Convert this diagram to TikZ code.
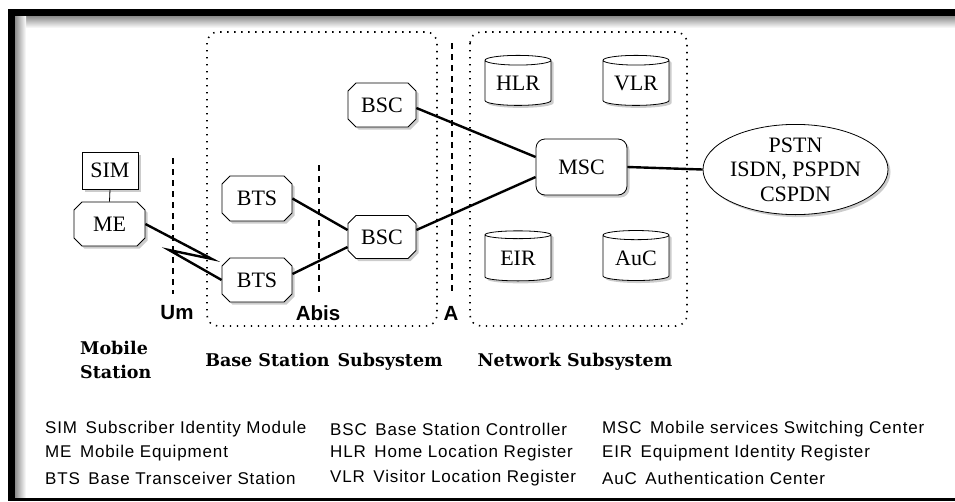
\documentclass[tikz,border=0pt]{standalone}
\usepackage{fontspec}
\setmainfont{Liberation Serif}
\newfontfamily\slabfont{DejaVu Serif}
\newfontfamily\legfont[LetterSpace=5]{Liberation Sans}
\newfontfamily\ifcfont{Liberation Sans}
\usetikzlibrary{shapes.misc,shapes.geometric,shadows}
\begin{document}
\begin{tikzpicture}[x=1pt,y=-1pt,
  shd/.style={drop shadow={shadow xshift=2.5pt,shadow yshift=-2.5pt,fill=black,opacity=0.2}},
  nfont/.style={font=\fontsize{22}{26}\selectfont},
  octbox/.style={chamfered rectangle,chamfered rectangle xsep=4pt,chamfered rectangle ysep=4pt,draw,thick,fill=white,inner sep=0pt,nfont,shd},
  rbox/.style={rounded corners=9pt,rectangle,draw,thick,fill=white,inner sep=0pt,nfont,shd},
  sqbox/.style={rectangle,draw,thick,fill=white,inner sep=0pt,nfont,shd},
  db/.style={cylinder,shape border rotate=90,aspect=0.22,draw,thick,fill=white,inner sep=0pt,
     minimum width=66pt,minimum height=50pt,nfont,shd},
  link/.style={line width=2.4pt},
  dotbox/.style={line width=1.6pt,dash pattern=on 1.4pt off 5.6pt,rounded corners=11pt},
  dashv/.style={line width=1.3pt,dash pattern=on 6pt off 5pt},
  ifc/.style={font=\ifcfont\bfseries\fontsize{20.5}{24}\selectfont},
  ttl/.style={font=\slabfont\bfseries\fontsize{17.5}{24}\selectfont},
  leg/.style={font=\legfont\fontsize{17}{20}\selectfont,anchor=west,inner sep=0pt}]
\useasboundingbox (0,0) rectangle (955,501);
% frame
\fill[white] (0,0) rectangle (955,501);
\shade[top color=black!45,bottom color=white] (15,16) rectangle (955,28);
\shade[left color=black!45,right color=white] (15,16) rectangle (26,497);
\fill[black] (8,9) rectangle (955,16);
\fill[black] (8,9) rectangle (15,501);
\fill[black] (8,497.5) rectangle (955,501);
% subsystem boxes
\draw[dotbox] (207,32) rectangle (437,326);
\draw[dotbox] (470,32) rectangle (687,326);
% interface lines
\coordinate (umT) at (173,158); \coordinate (umB) at (173,294);
\coordinate (abT) at (319,165); \coordinate (abB) at (319,294);
\coordinate (aT) at (452,43); \coordinate (aB) at (452,294);
\draw[dashv] (umT) -- (umB);
\draw[dashv] (abT) -- (abB);
\draw[dashv] (aT) -- (aB);
% nodes
\node[sqbox,minimum width=56pt,minimum height=37pt] (sim) at (110,170.5) {SIM};
\node[octbox,minimum width=71pt,minimum height=44pt] (me) at (109.5,224) {ME};
\node[octbox,minimum width=70pt,minimum height=45pt] (btsU) at (257,198.5) {BTS};
\node[octbox,minimum width=70pt,minimum height=44pt] (btsL) at (257,280) {BTS};
\node[octbox,minimum width=68pt,minimum height=44pt] (bscT) at (382,105) {BSC};
\node[octbox,minimum width=68pt,minimum height=43pt] (bscL) at (382,237) {BSC};
\node[rbox,minimum width=91pt,minimum height=56pt] (msc) at (581.5,167) {MSC};
\node[ellipse,draw,thick,fill=white,inner sep=0pt,minimum width=175pt,minimum height=85pt,shd,
      align=center,font=\fontsize{22}{24.5}\selectfont] (net) at (795.5,169.5) {PSTN\\ISDN, PSPDN\\CSPDN};
\node[db] (hlr) at (518,83) {HLR};
\node[db] (vlr) at (636,83) {VLR};
\node[db] (eir) at (518,258) {EIR};
\node[db] (auc) at (636,258) {AuC};
% links
\coordinate (z1) at (212,259);
\coordinate (z2) at (169,250);
\draw[thick] (sim.south) -- (me.north);
\draw[link] (me.east) -- (z1) -- (z2) -- (btsL.west);
\draw[link] (btsU.east) -- ([yshift=7pt]bscL.west);
\draw[link] ([yshift=6pt]btsL.east) -- ([yshift=-10pt]bscL.west);
\draw[link] ([yshift=-3pt]bscT.east) -- ([yshift=10pt]msc.west);
\draw[link] ([yshift=7pt]bscL.east) -- ([yshift=-10pt]msc.west);
\draw[link] (msc.east) -- (net.west);
% interface labels
\node[ifc] (lum) at (177,313) {Um};
\node[ifc] (lab) at (318,313) {Abis};
\node[ifc] (la) at (451,313) {A};
% titles
\node[ttl,align=left,anchor=west,inner sep=0pt] (tms) at (80,360) {Mobile\\Station};
\node[ttl,inner sep=0pt] (tbss) at (324,362) {Base Station\hspace{0.45em}Subsystem};
\node[ttl,inner sep=0pt] (tnss) at (575,362) {Network Subsystem};
% legend
\node[leg] (l1) at (45,429) {SIM\hspace{0.5em}Subscriber Identity Module};
\node[leg] (l2) at (45,453) {ME\hspace{0.5em}Mobile Equipment};
\node[leg] (l3) at (45,478) {BTS\hspace{0.5em}Base Transceiver Station};
\node[leg] (l4) at (330,429) {BSC\hspace{0.5em}Base Station Controller};
\node[leg] (l5) at (330,453) {HLR\hspace{0.5em}Home Location Register};
\node[leg] (l6) at (330,478) {VLR\hspace{0.5em}Visitor Location Register};
\node[leg] (l7) at (602,429) {MSC\hspace{0.5em}Mobile services Switching Center};
\node[leg] (l8) at (602,453) {EIR\hspace{0.5em}Equipment Identity Register};
\node[leg] (l9) at (602,478) {AuC\hspace{0.5em}Authentication Center};
\end{tikzpicture}
\end{document}
